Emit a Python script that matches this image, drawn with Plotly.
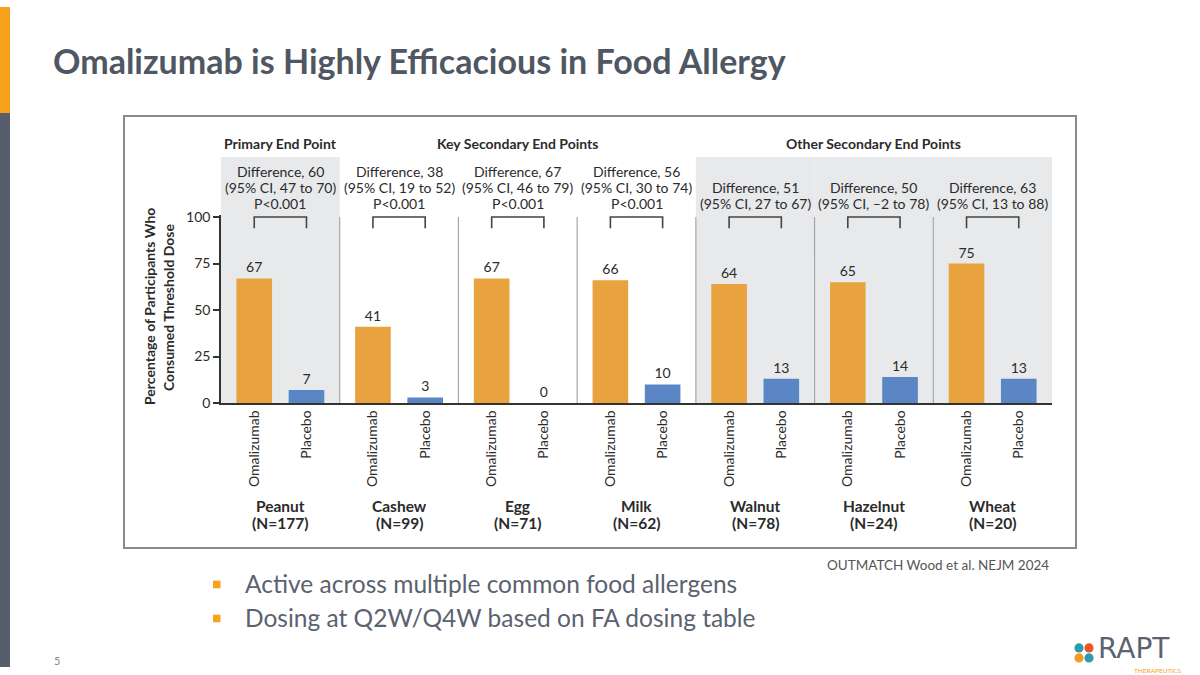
import plotly.graph_objects as go

W, H = 1200, 675

# ---------------- data ----------------
foods = ["Peanut", "Cashew", "Egg", "Milk", "Walnut", "Hazelnut", "Wheat"]
n_participants = [177, 99, 71, 62, 78, 24, 20]
omalizumab = [67, 41, 67, 66, 64, 65, 75]
placebo = [7, 3, 0, 10, 13, 14, 13]
differences = [60, 38, 67, 56, 51, 50, 63]
ci_low = ["47", "19", "46", "30", "27", "\u20132", "13"]
ci_high = ["70", "52", "79", "74", "67", "78", "88"]
p_values = ["P<0.001", "P<0.001", "P<0.001", "P<0.001", None, None, None]
sections = [("Primary End Point", 0, 0),
            ("Key Secondary End Points", 1, 3),
            ("Other Secondary End Points", 4, 6)]
shaded_groups = [0, 4, 5, 6]
y_ticks = [0, 25, 50, 75, 100]
arm_labels = ["Omalizumab", "Placebo"]
y_title = ["Percentage of Participants Who", "Consumed Threshold Dose"]
slide_title = "Omalizumab is Highly Efficacious in Food Allergy"
bullets = ["Active across multiple common food allergens",
           "Dosing at Q2W/Q4W based on FA dosing table"]
source = "OUTMATCH Wood et al. NEJM 2024"
page_number = "5"

# ---------------- style ----------------
ORANGE = "#E8A23E"
BLUE = "#5B86C5"
TXT = "#2b2b2b"
SLIDE_GRAY = "#555E6A"
ACCENT = "#F7A21B"
FONT = "Lato"
OFF = 0.22
BAR_W = 0.30

# vertical mapping of the photographed page (observed offset / scale)
V_OFF = 6.9
V_SCALE = 0.978


def py(y):
    return 1 - ((y - V_OFF) / V_SCALE) / H


def px(x):
    return x / W


def esc(s):
    return s.replace("<", "&lt;")


groups = list(range(len(foods)))
x_om = [g - OFF for g in groups]
x_pl = [g + OFF for g in groups]

fig = go.Figure()

fig.add_trace(go.Bar(x=x_om, y=omalizumab, width=BAR_W, marker_color=ORANGE,
                     marker_line_width=0, text=omalizumab, textposition="outside",
                     textfont=dict(size=14, color=TXT, family=FONT),
                     cliponaxis=False, showlegend=False, hoverinfo="skip"))
fig.add_trace(go.Bar(x=x_pl, y=placebo, width=BAR_W, marker_color=BLUE,
                     marker_line_width=0, text=placebo, textposition="outside",
                     textfont=dict(size=14, color=TXT, family=FONT),
                     cliponaxis=False, showlegend=False, hoverinfo="skip"))

# brackets
for g in groups:
    fig.add_trace(go.Scatter(x=[x_om[g], x_om[g], x_pl[g], x_pl[g]],
                             y=[94, 100, 100, 94], mode="lines",
                             line=dict(color="#444", width=1.6),
                             showlegend=False, hoverinfo="skip", cliponaxis=False))

shapes = []
# chart box
shapes.append(dict(type="rect", xref="paper", yref="paper",
                   x0=px(124), x1=px(1076), y0=py(548), y1=py(116),
                   line=dict(color="#8a8a8a", width=2), fillcolor="white", layer="below"))
# shaded groups
for g in shaded_groups:
    shapes.append(dict(type="rect", xref="x", yref="paper",
                       x0=g - 0.5, x1=g + 0.5, y0=py(403), y1=py(157),
                       line=dict(width=0), fillcolor="#E8E9EB", layer="below"))
# separators
for g in groups[1:]:
    shapes.append(dict(type="line", xref="x", yref="y", x0=g - 0.5, x1=g - 0.5,
                       y0=0, y1=100, line=dict(color="#a8a8a8", width=1.2), layer="below"))
# left side bar
shapes.append(dict(type="rect", xref="paper", yref="paper", x0=0, x1=px(10),
                   y0=py(113), y1=1, line=dict(width=0), fillcolor=ACCENT))
shapes.append(dict(type="rect", xref="paper", yref="paper", x0=0, x1=px(10),
                   y0=0, y1=py(113), line=dict(width=0), fillcolor=SLIDE_GRAY))
# bullet squares
for i in range(len(bullets)):
    yc = 584.5 + i * 34
    shapes.append(dict(type="rect", xref="paper", yref="paper",
                       x0=px(213), x1=px(220.5), y0=py(yc + 3.8), y1=py(yc - 3.8),
                       line=dict(width=0), fillcolor=ACCENT))
# logo circles
logo_cols = ["#2E9AB0", "#E8572A", "#F29A22", "#2E9AB0"]
for k, (cx, cy) in enumerate([(1079, 648), (1089, 648), (1079, 658), (1089, 658)]):
    shapes.append(dict(type="circle", xref="paper", yref="paper",
                       x0=px(cx - 4.6), x1=px(cx + 4.6), y0=py(cy + 4.6), y1=py(cy - 4.6),
                       line=dict(width=0), fillcolor=logo_cols[k]))

ann = []
# section headers
for name, a, b in sections:
    ann.append(dict(x=(a + b) / 2, xref="x", y=py(143.5), yref="paper",
                    text="<b>" + name + "</b>", showarrow=False,
                    font=dict(size=14, color=TXT, family=FONT), xanchor="center", yanchor="middle"))
# differences
for g in groups:
    lines = ["Difference, %d" % differences[g],
             "(95%% CI, %s to %s)" % (ci_low[g], ci_high[g])]
    if p_values[g]:
        lines.append(esc(p_values[g]))
    start = 203.5 - 16 * (len(lines) - 1)
    for j, t in enumerate(lines):
        ann.append(dict(x=g, xref="x", y=py(start + 16 * j), yref="paper", text=t,
                        showarrow=False, font=dict(size=14, color=TXT, family=FONT),
                        xanchor="center", yanchor="middle"))
# food labels
for g in groups:
    ann.append(dict(x=g, xref="x", y=py(506.5), yref="paper", text="<b>" + foods[g] + "</b>",
                    showarrow=False, font=dict(size=15.5, color=TXT, family=FONT),
                    xanchor="center", yanchor="middle"))
    ann.append(dict(x=g, xref="x", y=py(523), yref="paper",
                    text="<b>(N=%d)</b>" % n_participants[g],
                    showarrow=False, font=dict(size=15.5, color=TXT, family=FONT),
                    xanchor="center", yanchor="middle"))
# y-axis title
for j, t in enumerate(y_title):
    ann.append(dict(x=px(149 + 19 * j), xref="paper", y=py(307), yref="paper",
                    text="<b>" + t + "</b>", textangle=-90, showarrow=False,
                    font=dict(size=14, color=TXT, family=FONT),
                    xanchor="center", yanchor="middle"))
# slide title
ann.append(dict(x=px(51), y=py(60), xref="paper", yref="paper", text="<b>" + slide_title + "</b>",
                showarrow=False, xanchor="left", yanchor="middle",
                font=dict(size=34, color="#4F5763", family=FONT)))
# bullets
for i, t in enumerate(bullets):
    ann.append(dict(x=px(243), y=py(584 + i * 34), xref="paper", yref="paper", text=t,
                    showarrow=False, xanchor="left", yanchor="middle",
                    font=dict(size=24.5, color="#5A6270", family=FONT)))
# source
ann.append(dict(x=px(1051), y=py(565), xref="paper", yref="paper", text=source,
                showarrow=False, xanchor="right", yanchor="middle",
                font=dict(size=13.5, color="#555", family=FONT)))
# page number
ann.append(dict(x=px(52), y=py(661), xref="paper", yref="paper", text=page_number,
                showarrow=False, xanchor="left", yanchor="middle",
                font=dict(size=11, color="#8a8a8a", family=FONT)))
# logo text
ann.append(dict(x=px(1096), y=py(648.5), xref="paper", yref="paper", text="RAPT",
                showarrow=False, xanchor="left", yanchor="middle",
                font=dict(size=28, color="#5A6270", family="DejaVu Sans")))
ann.append(dict(x=px(1183), y=py(671), xref="paper", yref="paper", text="THERAPEUTICS",
                showarrow=False, xanchor="right", yanchor="middle",
                font=dict(size=6.5, color=ACCENT, family=FONT)))

y_top = 101
dom_y0 = py(403)
dom_y1 = py(403 - y_top * (403 - 217) / 100)

fig.update_layout(
    width=W, height=H, margin=dict(l=0, r=0, t=0, b=0),
    paper_bgcolor="white", plot_bgcolor="rgba(0,0,0,0)",
    barmode="overlay", shapes=shapes, annotations=ann,
    font=dict(family=FONT, color=TXT),
    xaxis=dict(domain=[px(221), px(1052)], range=[-0.5, 6.5],
               tickvals=x_om + x_pl, ticktext=[arm_labels[0]] * 7 + [arm_labels[1]] * 7,
               tickangle=-90, ticks="", showline=True, linecolor="#333", linewidth=1.5,
               showgrid=False, zeroline=False, tickfont=dict(size=14, color=TXT, family=FONT)),
    yaxis=dict(domain=[dom_y0, dom_y1], range=[0, y_top], tickvals=y_ticks,
               ticks="outside", ticklen=6, tickwidth=1.5, tickcolor="#333",
               showline=True, linecolor="#333", linewidth=1.5, showgrid=False, zeroline=False,
               tickfont=dict(size=14, color=TXT, family=FONT)),
)

fig.write_html(
    "out.html",
    config={"displayModeBar": False},
    post_script="document.body.style.margin='0';document.body.style.overflow='hidden';",
)
